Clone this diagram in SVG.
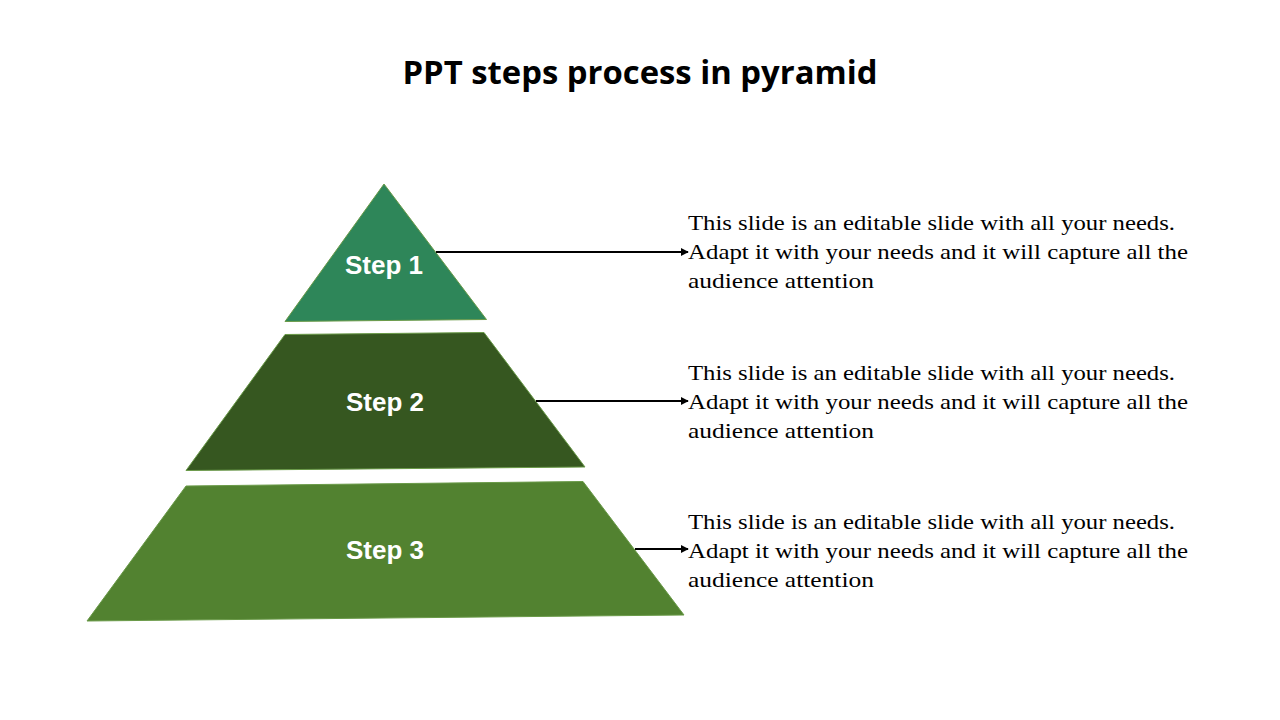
<svg xmlns="http://www.w3.org/2000/svg" width="1280" height="720" viewBox="0 0 1280 720">
<defs>
<style>
.title{font-family:"Open Sans","Liberation Sans",sans-serif;font-weight:bold;font-size:33px;fill:#000;text-anchor:middle}
.lbl{font-family:"Liberation Sans",Arial,sans-serif;font-weight:bold;font-size:26px;fill:#fff;text-anchor:middle}
.body{font-family:"Liberation Serif","DejaVu Serif",serif;font-size:22px;fill:#000}
.shape{stroke:#6a9a48;stroke-width:1}
.conn{stroke:#000;stroke-width:2;fill:none;marker-end:url(#arr)}
</style>
<marker id="arr" viewBox="0 0 10 10" refX="9" refY="5" markerWidth="4" markerHeight="4" orient="auto">
<path d="M0,0 L10,5 L0,10 z" fill="#000"/>
</marker>
</defs>
<rect width="1280" height="720" fill="#fff"/>
<text class="title" x="640" y="84" textLength="475" lengthAdjust="spacingAndGlyphs">PPT steps process in pyramid</text>
<g id="step1">
<polygon class="shape" points="384,184 486.5,319.5 285,321.5" fill="#2e8659"/>
<text class="lbl" x="384" y="274">Step 1</text>
</g>
<g id="step2">
<polygon class="shape" points="285,334.5 484,332.5 585,467 186,470.5" fill="#365720"/>
<text class="lbl" x="385" y="411">Step 2</text>
</g>
<g id="step3">
<polygon class="shape" points="186,486 583,481.5 684,615 87,621" fill="#528230"/>
<text class="lbl" x="385" y="559">Step 3</text>
</g>
<g id="connectors">
<line class="conn" x1="436" y1="252" x2="688" y2="252"/>
<line class="conn" x1="536" y1="401" x2="688" y2="401"/>
<line class="conn" x1="635" y1="549" x2="688" y2="549"/>
</g>
<g id="text1">
<text class="body" x="688" y="230" textLength="487" lengthAdjust="spacingAndGlyphs">This slide is an editable slide with all your needs.</text>
<text class="body" x="688" y="259" textLength="500" lengthAdjust="spacingAndGlyphs">Adapt it with your needs and it will capture all the</text>
<text class="body" x="688" y="288" textLength="186" lengthAdjust="spacingAndGlyphs">audience attention</text>
</g>
<g id="text2">
<text class="body" x="688" y="380" textLength="487" lengthAdjust="spacingAndGlyphs">This slide is an editable slide with all your needs.</text>
<text class="body" x="688" y="409" textLength="500" lengthAdjust="spacingAndGlyphs">Adapt it with your needs and it will capture all the</text>
<text class="body" x="688" y="438" textLength="186" lengthAdjust="spacingAndGlyphs">audience attention</text>
</g>
<g id="text3">
<text class="body" x="688" y="529" textLength="487" lengthAdjust="spacingAndGlyphs">This slide is an editable slide with all your needs.</text>
<text class="body" x="688" y="558" textLength="500" lengthAdjust="spacingAndGlyphs">Adapt it with your needs and it will capture all the</text>
<text class="body" x="688" y="587" textLength="186" lengthAdjust="spacingAndGlyphs">audience attention</text>
</g>
</svg>
